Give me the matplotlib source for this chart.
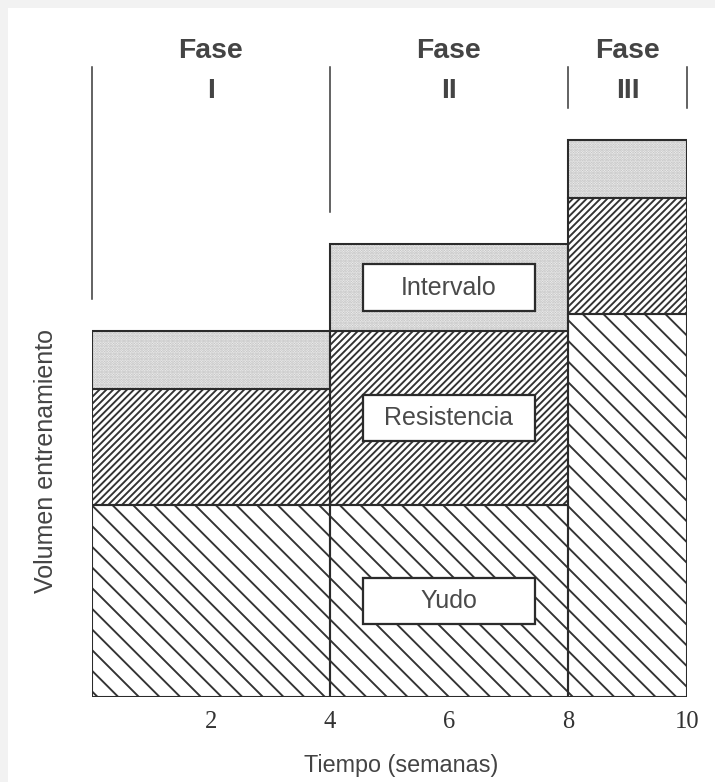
import matplotlib.pyplot as plt
from matplotlib.patches import Rectangle

plt.rcParams['font.family'] = ['Liberation Sans', 'DejaVu Sans']
plt.rcParams['hatch.linewidth'] = 1.1

# datos (volumen relativo por fase)
inicio = [0, 4, 8]
ancho = [4, 4, 2]
fases = ['I', 'II', 'III']
yudo = [3.3, 3.3, 6.6]
resistencia = [2, 3, 2]
intervalo = [1, 1.5, 1]
componentes = ['Yudo', 'Resistencia', 'Intervalo']
ticks = [2, 4, 6, 8, 10]

DPI = 124
fig = plt.figure(figsize=(715 / DPI, 782 / DPI), dpi=DPI)
fig.patch.set_facecolor('white')
# franjas grises del borde
fig.add_artist(Rectangle((0, 1 - 8 / 782), 1, 8 / 782, transform=fig.transFigure,
                         color='#f2f2f2', lw=0))
fig.add_artist(Rectangle((0, 0), 8 / 715, 1, transform=fig.transFigure,
                         color='#f2f2f2', lw=0))

ax = fig.add_axes([92 / 715, 85.5 / 782, 595 / 715, 688 / 782])
ax.set_xlim(0, 10)
ax.set_ylim(0, 688 / 58)

base2 = [a + b for a, b in zip(yudo, resistencia)]
total = [a + b for a, b in zip(base2, intervalo)]

ax.bar(inicio, yudo, width=ancho, align='edge', color='white',
       edgecolor='#333333', hatch='\\\\', lw=0)
ax.bar(inicio, resistencia, bottom=yudo, width=ancho, align='edge', color='white',
       edgecolor='#333333', hatch='//////', lw=0)
ax.bar(inicio, intervalo, bottom=base2, width=ancho, align='edge', color='#f7f7f7',
       edgecolor='#b8b8b8', hatch='........', lw=0)

# contornos
for vals, bot in [(yudo, None), (resistencia, yudo), (intervalo, base2)]:
    ax.bar(inicio, vals, bottom=bot, width=ancho, align='edge', fill=False,
           edgecolor='#2b2b2b', lw=1.2)

# etiquetas en la fase II
i = 1
cx = inicio[i] + ancho[i] / 2
bottoms = [0, yudo[i], base2[i]]
heights = [yudo[i], resistencia[i], intervalo[i]]
for nombre, b, h in zip(componentes, bottoms, heights):
    cy = b + h / 2
    ax.add_patch(Rectangle((cx - 1.44, cy - 0.4), 2.88, 0.8, facecolor='white',
                           edgecolor='#2b2b2b', lw=1.3, zorder=3))
    ax.text(cx, cy, nombre, ha='center', va='center', fontsize=14.5,
            color='#4a4a4a', zorder=4)

# lineas de fase
limites = [0, 4, 8, 10]
for x in limites:
    vecinos = [t for s, w, t in zip(inicio, ancho, total) if s <= x <= s + w]
    ax.plot([x, x], [max(vecinos) + 0.55, 10.85], color='#3a3a3a', lw=0.9,
            clip_on=False)

for s, w, f in zip(inicio, ancho, fases):
    ax.text(s + w / 2, 11.13, 'Fase', ha='center', va='center', fontsize=16.5,
            fontweight='bold', color='#444444')
    ax.text(s + w / 2, 10.44, f, ha='center', va='center', fontsize=16.5,
            fontweight='bold', color='#444444')

for sp in ax.spines.values():
    sp.set_visible(False)
ax.set_yticks([])
ax.set_xticks(ticks)
ax.set_xticklabels([str(t) for t in ticks], fontfamily='Liberation Serif',
                   fontsize=14.3, color='#333333')
ax.tick_params(axis='x', length=0, pad=8.5)

ax.text(0.52, -0.1093, 'Tiempo (semanas)', transform=ax.transAxes, ha='center',
        va='baseline', fontsize=13.6, color='#444444')
ax.text(-0.078, 0.342, 'Volumen entrenamiento', transform=ax.transAxes,
        ha='center', va='center', rotation=90, fontsize=14.5, color='#444444')

fig.savefig('out.png', dpi=DPI)
